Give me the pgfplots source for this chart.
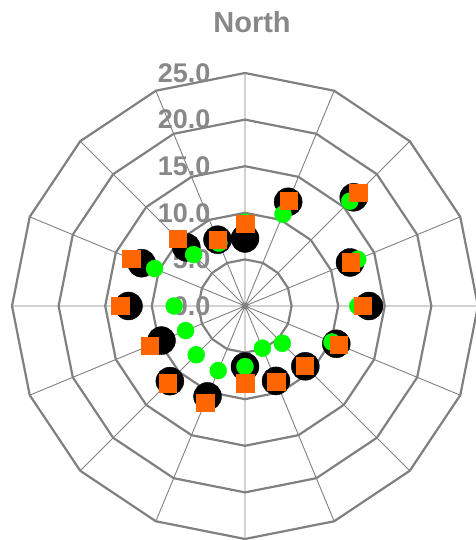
\documentclass[border=0pt]{standalone}
\usepackage{pgfplots}
\pgfplotsset{compat=1.18}
\usepackage{pgfplotstable}
\usepgfplotslibrary{polar}
\usepackage{fontspec}
\setmainfont{Liberation Sans}

\definecolor{gridgray}{RGB}{128,128,128}
\definecolor{txtgray}{RGB}{136,136,136}
\definecolor{mkgreen}{RGB}{0,255,0}
\definecolor{mkorange}{RGB}{255,102,0}

% a = plot angle (90 = North, going clockwise: 67.5 = NNE, 45 = NE, ...)
\pgfplotstableread{
a       black   green   orange
90      7.25    9.0     8.8
67.5    12.1    10.65   12.2
45      16.5    15.9    17.2
22.5    12.2    13.1    12.3
0       13.3    12.1    12.6
-22.5   10.6    10.1    10.9
-45     9.15    5.66    9.1
-67.5   8.7     4.9     8.8
-90     6.5     6.5     8.3
-112.5  10.5    7.5     11.2
-135    11.4    7.4     11.7
-157.5  9.7     6.9     11.1
180     12.5    7.6     13.4
157.5   12.0    10.5    13.2
135     8.9     7.8     10.2
112.5   7.7     7.3     7.7
}\winddata

\begin{document}
\begin{tikzpicture}
\begin{polaraxis}[
  scale only axis,
  width=466pt, height=466pt,
  xmin=0, xmax=360,
  ymin=0, ymax=25,
  xtick={0,22.5,...,337.5},
  xticklabels={},
  ytick=\empty,
  xmajorgrids=true, ymajorgrids=false,
  major x grid style={gridgray, line width=0.9pt},
  axis line style={draw=none},
  major tick length=0pt,
  clip=false,
]
% polygon rings
\pgfplotsinvokeforeach{5,10,15,20,25}{
  \addplot[gridgray, line width=2.2pt, no markers, sharp plot] coordinates {
    (0,#1)(22.5,#1)(45,#1)(67.5,#1)(90,#1)(112.5,#1)(135,#1)(157.5,#1)
    (180,#1)(202.5,#1)(225,#1)(247.5,#1)(270,#1)(292.5,#1)(315,#1)(337.5,#1)(360,#1)
  };
}

\addplot[only marks, mark=*, mark size=14pt, black,
  mark options={draw=none, fill=black}] table[x=a, y=black] {\winddata};
\addplot[only marks, mark=*, mark size=8.5pt, mkgreen,
  mark options={draw=none, fill=mkgreen}] table[x=a, y=green] {\winddata};
\addplot[only marks, mark=square*, mark size=8.7pt, mkorange,
  mark options={draw=none, fill=mkorange}] table[x=a, y=orange] {\winddata};

\pgfplotsinvokeforeach{0,5,10,15,20,25}{
  \node[anchor=east, xshift=-31pt, text=txtgray,
    font={\fontsize{27}{30}\selectfont\bfseries}] at (axis cs:90,#1) {#1.0};
}
\coordinate (c) at (axis cs:0,0);
\end{polaraxis}

\node[text=txtgray, font={\fontsize{29}{32}\selectfont\bfseries}]
  at ([shift={(7pt,283.5pt)}]c) {North};

\pgfresetboundingbox
\path[use as bounding box] ([shift={(-245pt,-234pt)}]c) rectangle ([shift={(230pt,306pt)}]c);
\end{tikzpicture}
\end{document}
